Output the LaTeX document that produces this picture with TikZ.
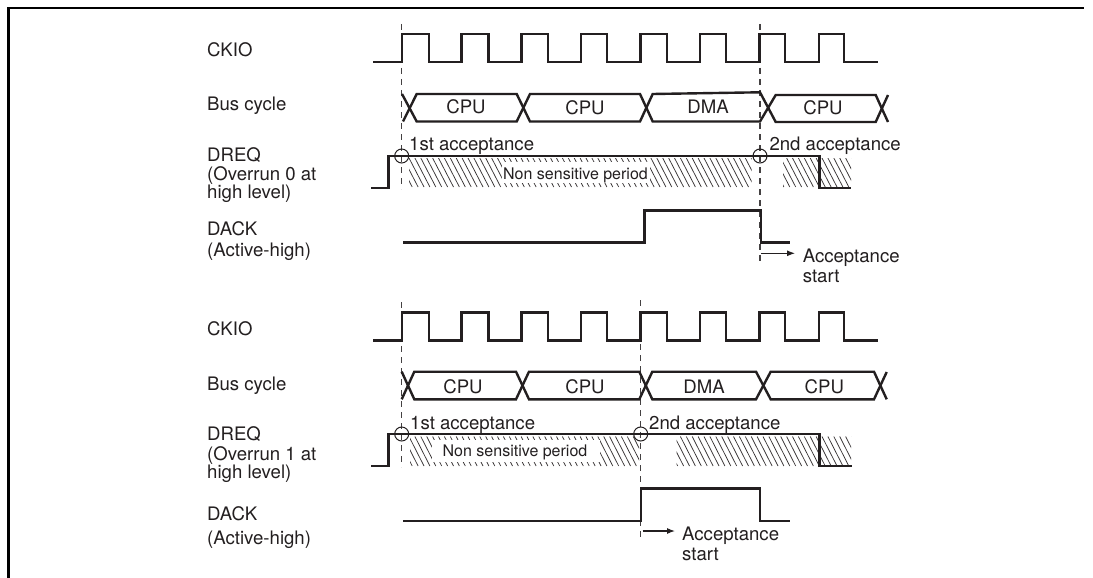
\documentclass[tikz,border=0pt]{standalone}
\usepackage{fontspec}
\setmainfont{TeX Gyre Heros}
\usetikzlibrary{arrows.meta}
\definecolor{ink}{HTML}{231F20}
\tikzset{
  frameline/.style={line width=2.6pt,black,line cap=butt},
  signal/.style={line width=2.4pt,ink,line join=miter},
  guide/.style={line width=1.2pt,ink!85,dash pattern=on 6pt off 5pt},
  hatchline/.style={line width=0.75pt,ink!90},
  ring/.style={line width=1pt,ink},
  pointer/.style={line width=1.1pt,ink,-{Latex[length=8pt,width=6pt]}},
  lab/.style={anchor=base west,inner sep=0pt,text=ink,font=\fontsize{18.6}{18.6}\selectfont},
  mid/.style={anchor=base,inner sep=0pt,text=ink,font=\fontsize{18.6}{18.6}\selectfont},
  period/.style={anchor=base,inner sep=0pt,text=ink,font=\fontsize{16}{16}\selectfont},
}
\newcommand{\hatcharea}[4]{%
  \begin{scope}
    \clip (#1,#3) rectangle (#2,#4);
    \foreach \hx in {350,355.9,...,860} {\draw[hatchline] (\hx,#3) -- (\hx+15,#4);}
  \end{scope}}
\newcommand{\clockwave}[2]{%
  \draw[signal] (373,#1) -- (401.7,#1) -- (401.7,#2) -- (429,#2) -- (429,#1) -- (461.6,#1) -- (461.6,#2) -- (488.5,#2) -- (488.5,#1) -- (521.3,#1) -- (521.3,#2) -- (547.7,#2) -- (547.7,#1) -- (581,#1) -- (581,#2) -- (607,#2) -- (607,#1) -- (640.5,#1) -- (640.5,#2) -- (666.7,#2) -- (666.7,#1) -- (700,#1) -- (700,#2) -- (726,#2) -- (726,#1) -- (759.5,#1) -- (759.5,#2) -- (785,#2) -- (785,#1) -- (819,#1) -- (819,#2) -- (844,#2) -- (844,#1) -- (878,#1);}
\begin{document}
\begin{tikzpicture}[x=1pt,y=-1pt]
\useasboundingbox (0,0) rectangle (1093,578);
\fill[white] (0,0) rectangle (1093,578);
\draw[frameline] (8.2,578) -- (8.2,8) -- (1084,8);

% ---------- upper diagram ----------
\coordinate (ga1) at (401.7,24); \coordinate (ga2) at (401.7,189);
\coordinate (gb1) at (760,24);   \coordinate (gb2) at (760,264);
\draw[guide] (ga1) -- (ga2);
\draw[guide] (gb1) -- (gb2);
\clockwave{62}{34.3}
\draw[signal] (403,121.5) -- (416.7,94) -- (516.7,94) -- (530,121.5) -- (640,121.5) -- (652.7,94) -- (760,92.3) -- (775.7,122) -- (875.7,122) -- (888,95);
\draw[signal] (402,94) -- (416.7,121.5) -- (516.7,121.5) -- (530,94) -- (640,94) -- (652.7,121.5) -- (760,121.5) -- (775.7,95) -- (875.7,95) -- (888,122);
\node[mid] (ucpu1) at (466,113.5) {CPU};
\node[mid] (ucpu2) at (585,114) {CPU};
\node[mid] (udma) at (708,113.5) {DMA};
\node[mid] (ucpu3) at (823,114) {CPU};
\hatcharea{409}{751.7}{158}{187}
\hatcharea{783}{851}{158}{187}
\fill[white] (501.7,161.5) rectangle (650,183);
\node[period] (unsp) at (575.5,179) {Non sensitive period};
\draw[signal] (371,187.7) -- (388.3,187.7) -- (388.3,156) -- (819.3,156) -- (819.3,187.7) -- (851,187.7);
\node[circle,draw,ring,minimum size=14pt,inner sep=0pt] (uc1) at (401.7,156) {};
\node[circle,draw,ring,minimum size=14pt,inner sep=0pt] (uc2) at (760,156) {};
\node[lab] (ua1) at (409,150) {1st acceptance};
\node[lab] (ua2) at (769.3,150) {2nd acceptance};
\draw[signal] (403,242.3) -- (644.3,242.3) -- (644.3,210.5) -- (761,210.5) -- (761,242.3) -- (789.6,242.3);
\coordinate (ub1) at (761,253.3); \coordinate (ub2) at (795,253.3);
\draw[pointer] (ub1) -- (ub2);
\node[lab] (us1) at (802.6,262.7) {Acceptance};
\node[lab] (us2) at (802.6,282.3) {start};
\node[lab] (ul1) at (207,57) {CKIO};
\node[lab] (ul2) at (207,110.5) {Bus cycle};
\node[lab] (ul3) at (207,161.7) {DREQ};
\node[lab] (ul4) at (207,180) {(Overrun 0 at};
\node[lab] (ul5) at (207,198) {high level)};
\node[lab] (ul6) at (207,235) {DACK};
\node[lab] (ul7) at (207,256.7) {(Active-high)};

% ---------- lower diagram ----------
\coordinate (gc1) at (401.7,302); \coordinate (gc2) at (401.7,467);
\coordinate (gd1) at (640.7,300); \coordinate (gd2) at (640.7,540);
\draw[guide] (gc1) -- (gc2);
\draw[guide] (gd1) -- (gd2);
\clockwave{340.3}{312.5}
\draw[signal] (401.7,399.3) -- (414.3,371.7) -- (516,371.7) -- (529,399.3) -- (639.3,399.3) -- (652.3,371.7) -- (756,371.7) -- (770.7,399.3) -- (874,399.3) -- (886.7,372);
\draw[signal] (401.7,371.7) -- (414.3,399.3) -- (516,399.3) -- (529,371.7) -- (639.3,371.7) -- (652.3,399.3) -- (756,399.3) -- (770.7,371.7) -- (874,371.7) -- (886.7,399.3);
\node[mid] (lcpu1) at (463,393.5) {CPU};
\node[mid] (lcpu2) at (585,393.5) {CPU};
\node[mid] (ldma) at (704,393.5) {DMA};
\node[mid] (lcpu3) at (824.3,393.5) {CPU};
\hatcharea{410}{639}{436.5}{466}
\hatcharea{676.7}{851}{436.5}{466}
\fill[white] (431.7,440) rectangle (600,461.5);
\node[period] (lnsp) at (515,456.7) {Non sensitive period};
\draw[signal] (371,465.7) -- (388.3,465.7) -- (388.3,434) -- (819.3,434) -- (819.3,465.7) -- (851.7,465.7);
\node[circle,draw,ring,minimum size=14pt,inner sep=0pt] (lc1) at (401.7,434) {};
\node[circle,draw,ring,minimum size=14pt,inner sep=0pt] (lc2) at (640.7,434) {};
\node[lab] (la1) at (410,429) {1st acceptance};
\node[lab] (la2) at (649,429) {2nd acceptance};
\draw[signal] (403,520.7) -- (641,520.7) -- (641,488.5) -- (760,488.5) -- (760,520.7) -- (789.6,520.7);
\coordinate (lb1) at (642.5,531); \coordinate (lb2) at (675,531);
\draw[pointer] (lb1) -- (lb2);
\node[lab] (ls1) at (682,540.7) {Acceptance};
\node[lab] (ls2) at (682,560) {start};
\node[lab] (ll1) at (207,335.3) {CKIO};
\node[lab] (ll2) at (207,390.5) {Bus cycle};
\node[lab] (ll3) at (207,440.7) {DREQ};
\node[lab] (ll4) at (207,460) {(Overrun 1 at};
\node[lab] (ll5) at (207,478) {high level)};
\node[lab] (ll6) at (207,520.7) {DACK};
\node[lab] (ll7) at (207,544) {(Active-high)};
\end{tikzpicture}
\end{document}
